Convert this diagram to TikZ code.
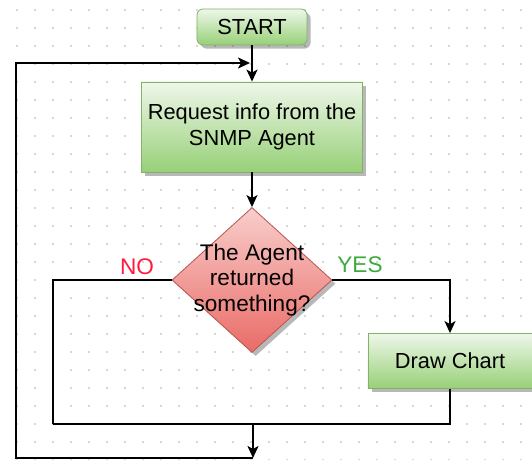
\documentclass[tikz,border=0pt]{standalone}
\usepackage{fontspec}
\setmainfont{Liberation Sans}
\usetikzlibrary{shapes.geometric,shadows,arrows.meta}

\definecolor{boxtop}{HTML}{EEF7EA}
\definecolor{boxbot}{HTML}{97D077}
\definecolor{boxline}{HTML}{82B366}
\definecolor{testtop}{HTML}{F8CECC}
\definecolor{testbot}{HTML}{EA6B66}
\definecolor{testline}{HTML}{B85450}
\definecolor{nored}{HTML}{FF1A3C}
\definecolor{yesgreen}{HTML}{3DAA3D}
\definecolor{dotc}{HTML}{C8C8C8}

\begin{document}
\begin{tikzpicture}[x=0.5pt,y=-0.5pt,
  >={Stealth[length=6pt,width=5.5pt,inset=1.5pt]},
  font=\fontsize{10.9}{12.8}\selectfont,
  shade/.style={drop shadow={shadow xshift=1.8pt,shadow yshift=-1.8pt,fill=black,opacity=0.28}},
  stepbox/.style={rectangle,draw=boxline,top color=boxtop,bottom color=boxbot,align=center,shade},
  testbox/.style={diamond,draw=testline,top color=testtop,bottom color=testbot,inner sep=0pt,
    minimum width=80pt,minimum height=72.5pt,shade},
  line/.style={line width=0.9pt}]
\useasboundingbox (0,0) rectangle (532,460);

% dot grid
\foreach \i in {0,...,29}
  \foreach \j in {0,...,25}
    \fill[dotc] (17+18*\i,10+18*\j) circle (0.55pt);

\node[stepbox,rounded corners=3pt,minimum width=55pt,minimum height=18pt] (start) at (252,27) {START};
\node[stepbox,minimum width=108.5pt,minimum height=45pt] (req) at (252,127) {Request info from the\\SNMP Agent};
\node[testbox,label={[align=center,font=\fontsize{11.3}{12.6}\selectfont]center:The Agent\\returned\\something?}] (test) at (252,280) {};
\node[stepbox,minimum width=82pt,minimum height=27.5pt] (chart) at (450,361) {Draw Chart};

\node[text=nored,font=\fontsize{11.3}{13}\selectfont] (nolbl) at (137,267) {NO};
\node[text=yesgreen,font=\fontsize{11.3}{13}\selectfont] (yeslbl) at (360,265) {YES};

\coordinate (nocorner) at (53,424);
\coordinate (join) at (253,424);
\coordinate (loopb) at (253,458);
\coordinate (leftc) at (16,63);
\coordinate (back) at (250,63);

\draw[line,->] (start) -- (req);
\draw[line,->] (req) -- (test);
\draw[line,->] (test.east) -| (chart.north);
\draw[line] (test.west) -| (nocorner);
\draw[line] (chart.south) |- (nocorner);
\draw[line,->] (join) -- (loopb);
\draw[line,->] (loopb) -| (leftc) -- (back);
\end{tikzpicture}
\end{document}
